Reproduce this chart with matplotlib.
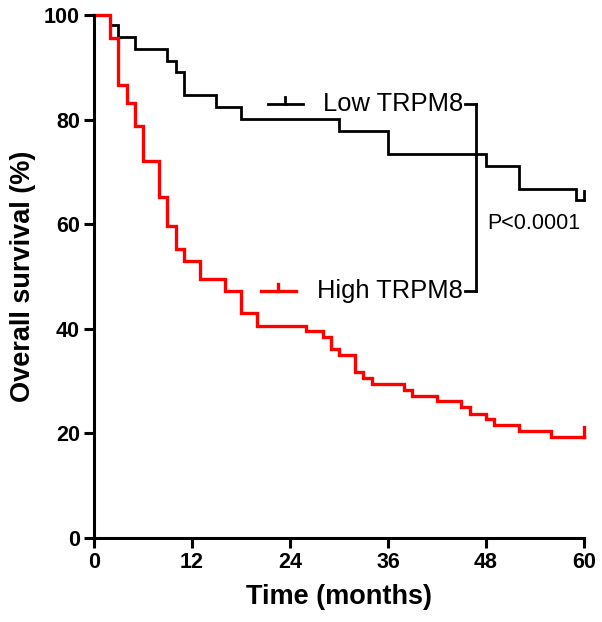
import matplotlib
matplotlib.use("Agg")
import matplotlib.pyplot as plt

plt.rcParams['font.family'] = ['Liberation Sans', 'DejaVu Sans']

# Kaplan-Meier steps (months, % surviving)
low_times = [0, 2, 3, 5, 9, 10, 11, 15, 18, 30, 36, 48, 52, 59, 60]
low_surv = [100, 98.0, 95.7, 93.5, 91.2, 89.0, 84.7, 82.4, 80.1, 77.9, 73.4, 71.2, 66.7, 64.6, 64.6]

high_times = [0, 2, 3, 4, 5, 6, 8, 9, 10, 11, 13, 16, 18, 20, 26, 28, 29, 30,
              32, 33, 34, 38, 39, 42, 45, 46, 48, 49, 52, 56, 60]
high_surv = [100, 95.5, 86.6, 83.2, 78.8, 72.1, 65.1, 59.7, 55.2, 53.0, 49.6, 47.3,
             43.0, 40.5, 39.6, 38.4, 36.1, 35.0, 31.7, 30.5, 29.4, 28.3, 27.2, 26.2,
             25.0, 23.8, 22.8, 21.6, 20.5, 19.4, 19.4]

groups = ['Low TRPM8', 'High TRPM8']
colors = ['black', 'red']
widths = [2.0, 2.4]
x_ticks = [0, 12, 24, 36, 48, 60]
y_ticks = [0, 20, 40, 60, 80, 100]
p_text = 'P<0.0001'

fig = plt.figure(figsize=(6.02, 6.22), dpi=100)
ax = fig.add_axes([0.156, 0.135, 0.814, 0.841])

curves = [(low_times, low_surv), (high_times, high_surv)]
for (t, s), c, lw in zip(curves, colors, widths):
    ax.step(t, s, where='post', color=c, lw=lw, clip_on=False, solid_joinstyle='miter')
    # censor tick at the end of follow-up
    ax.plot([t[-1], t[-1]], [s[-1], s[-1] + 1.8], color=c, lw=lw, clip_on=False)

# legend drawn by hand, GraphPad style, with bracket for the p value
leg_y = [83.0, 47.2]
leg_x0 = [21.3, 20.4]
for y, x0, c, lw, name in zip(leg_y, leg_x0, colors, widths, groups):
    ax.plot([x0, x0 + 4.3], [y, y], color=c, lw=lw)
    ax.plot([x0 + 2.15, x0 + 2.15], [y, y + 1.4], color=c, lw=lw)
    ax.text(45.2, y, name, ha='right', va='center', fontsize=18.4)
    ax.plot([45.4, 46.8], [y, y], color='black', lw=2.0)
ax.plot([46.8, 46.8], leg_y, color='black', lw=2.0)
ax.text(48.2, 60.2, p_text, ha='left', va='center', fontsize=15.5)

ax.set_xlim(0, 60)
ax.set_ylim(0, 100)
ax.set_xticks(x_ticks)
ax.set_yticks(y_ticks)
for lab in ax.get_xticklabels() + ax.get_yticklabels():
    lab.set_fontweight('bold')
ax.tick_params(direction='out', length=7, width=2.2, labelsize=15.5, pad=3)
for side in ['top', 'right']:
    ax.spines[side].set_visible(False)
for side in ['left', 'bottom']:
    ax.spines[side].set_linewidth(2.2)
ax.set_xlabel('Time (months)', fontsize=19.5, fontweight='bold', labelpad=8)
ax.set_ylabel('Overall survival (%)', fontsize=19.5, fontweight='bold', labelpad=6)

fig.savefig('out.png', dpi=100)
